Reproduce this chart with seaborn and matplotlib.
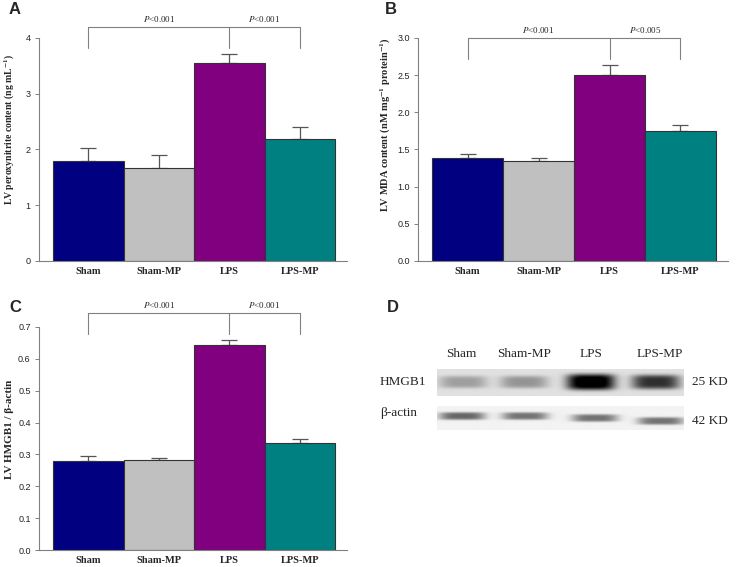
import numpy as np
import pandas as pd
import matplotlib
matplotlib.use("Agg")
import matplotlib.pyplot as plt
import seaborn as sns

# data
groups = ["Sham", "Sham-MP", "LPS", "LPS-MP"]
colors = ["#000080", "#c0c0c0", "#800080", "#008080"]

peroxynitrite = [1.80, 1.66, 3.55, 2.18]
peroxynitrite_err = [0.23, 0.24, 0.16, 0.22]

mda = [1.39, 1.35, 2.50, 1.75]
mda_err = [0.05, 0.03, 0.14, 0.08]

hmgb1_ratio = [0.280, 0.281, 0.642, 0.336]
hmgb1_ratio_err = [0.015, 0.009, 0.018, 0.014]

# western blot band intensities (relative darkness) for panel D
hmgb1_band = [0.26, 0.30, 1.00, 0.70]
actin_band = [0.55, 0.50, 0.50, 0.50]

sns.set_style("ticks")
plt.rcParams["font.family"] = ["Liberation Sans", "DejaVu Sans"]
plt.rcParams["mathtext.fontset"] = "stix"

SERIF = ["Liberation Serif", "DejaVu Serif"]
GREY = "#808080"

fig = plt.figure(figsize=(7.36, 5.67), dpi=100)


def bar_panel(rect, values, errs, ylim, yticks, ylabel, label_size, label_pos,
              brackets, p_texts, tick_fmt):
    ax = fig.add_axes(rect)
    df = pd.DataFrame({"group": groups, "value": values})
    sns.barplot(data=df, x="group", y="value", hue="group", palette=dict(zip(groups, colors)),
                legend=False, width=1.0, saturation=1, edgecolor="#333333", linewidth=0.8,
                ax=ax, zorder=2)
    ax.errorbar(range(len(groups)), values, yerr=[np.zeros(len(errs)), errs], fmt="none",
                ecolor="#555555", elinewidth=0.9, capsize=6, capthick=0.9, zorder=1)
    ax.set_xlim(-0.7, 3.67)
    ax.set_ylim(*ylim)
    ax.set_yticks(yticks)
    ax.set_yticklabels([tick_fmt.format(t) for t in yticks], fontsize=6.5, color="#222222")
    ax.set_xticks(range(len(groups)))
    ax.set_xticklabels(groups, fontsize=7.5, fontweight="bold", family=SERIF)
    ax.tick_params(axis="x", length=0, pad=4)
    ax.tick_params(axis="y", length=3, width=0.7, color=GREY, pad=3)
    ax.set_xlabel("")
    ax.set_ylabel(ylabel, fontsize=label_size, fontweight="bold", family=SERIF)
    ax.yaxis.set_label_coords(*label_pos)
    for s in ["top", "right"]:
        ax.spines[s].set_visible(False)
    for s in ["left", "bottom"]:
        ax.spines[s].set_color(GREY)
        ax.spines[s].set_linewidth(0.8)
    top, leg = brackets
    kw = dict(color=GREY, lw=0.8, clip_on=False)
    ax.plot([0, 3], [top, top], **kw)
    for x in (0, 2, 3):
        ax.plot([x, x], [top, leg], **kw)
    dy = (ylim[1] - ylim[0]) * 0.012
    ax.text(1.0, top + dy, p_texts[0], ha="center", va="bottom", fontsize=6.5, family=SERIF)
    ax.text(2.5, top + dy, p_texts[1], ha="center", va="bottom", fontsize=6.5, family=SERIF)
    return ax


bar_panel([39 / 736, 1 - 261 / 567, 308 / 736, 223 / 567], peroxynitrite, peroxynitrite_err,
          (0, 4), [0, 1, 2, 3, 4], r"LV peroxynitrite content (ng mL$^{\mathbf{-1}}$)",
          7.0, (-0.07, 0.59),
          (4.197, 3.82), [r"$\it{P}$<0.001", r"$\it{P}$<0.001"], "{:.0f}")

bar_panel([418 / 736, 1 - 261 / 567, 310 / 736, 223 / 567], mda, mda_err,
          (0, 3), [0, 0.5, 1.0, 1.5, 2.0, 2.5, 3.0],
          r"LV MDA content (nM mg$^{\mathbf{-1}}$ protein$^{\mathbf{-1}}$)",
          7.5, (-0.082, 0.61),
          (3.0, 2.72), [r"$\it{P}$<0.001", r"$\it{P}$<0.005"], "{:.1f}")

bar_panel([39 / 736, 1 - 550 / 567, 308 / 736, 223 / 567], hmgb1_ratio, hmgb1_ratio_err,
          (0, 0.7), [0, 0.1, 0.2, 0.3, 0.4, 0.5, 0.6, 0.7], "LV HMGB1 / β-actin",
          8.0, (-0.08, 0.54),
          (0.744, 0.678), [r"$\it{P}$<0.001", r"$\it{P}$<0.001"], "{:.1f}")

# panel D: western blot, drawn in pixel coordinates of the figure
axd = fig.add_axes([368 / 736, 0, 368 / 736, 300 / 567])
axd.set_xlim(368, 736)
axd.set_ylim(567, 267)
axd.axis("off")


def blot_strip(ax, x0, x1, y0, y1, centers, ycenters, intens, bw, bh, bg):
    xs = np.linspace(x0, x1, 400)
    ys = np.linspace(y0, y1, 60)
    X, Y = np.meshgrid(xs, ys)
    img = np.full(X.shape, bg)
    for cx, cy, a in zip(centers, ycenters, intens):
        h = bh * (0.7 + 0.3 * a)
        img += a * np.exp(-((X - cx) / bw) ** 4 - ((Y - cy) / h) ** 4)
    ax.imshow(np.clip(img, 0, 1), cmap="gray_r", vmin=0, vmax=1.0, extent=(x0, x1, y1, y0),
              aspect="auto", interpolation="bilinear", zorder=1)


blot_strip(axd, 437, 684, 369, 396, [463, 524, 591, 656], [382, 382, 382, 382],
           hmgb1_band, 24, 8.0, 0.12)
blot_strip(axd, 437, 684, 406, 430, [462, 525, 595, 661], [416, 416, 418, 421],
           actin_band, 23, 4.5, 0.05)

lane_x = [461, 524, 591, 660]
for x, g in zip(lane_x, groups):
    axd.text(x, 354, g, ha="center", va="center", fontsize=9.5, family=SERIF)
axd.text(380, 382, "HMGB1", ha="left", va="center", fontsize=9.5, family=SERIF)
axd.text(380, 413, "β-actin", ha="left", va="center", fontsize=9.5, family=SERIF)
axd.text(692, 382, "25 KD", ha="left", va="center", fontsize=9.5, family=SERIF)
axd.text(692, 421, "42 KD", ha="left", va="center", fontsize=9.5, family=SERIF)

# panel letters
for lab, x, y in [("A", 15, 9), ("B", 391, 9), ("C", 15, 307), ("D", 393, 307)]:
    fig.text(x / 736, 1 - y / 567, lab, ha="center", va="center", fontsize=12, fontweight="bold")

fig.savefig("out.png", dpi=100)
